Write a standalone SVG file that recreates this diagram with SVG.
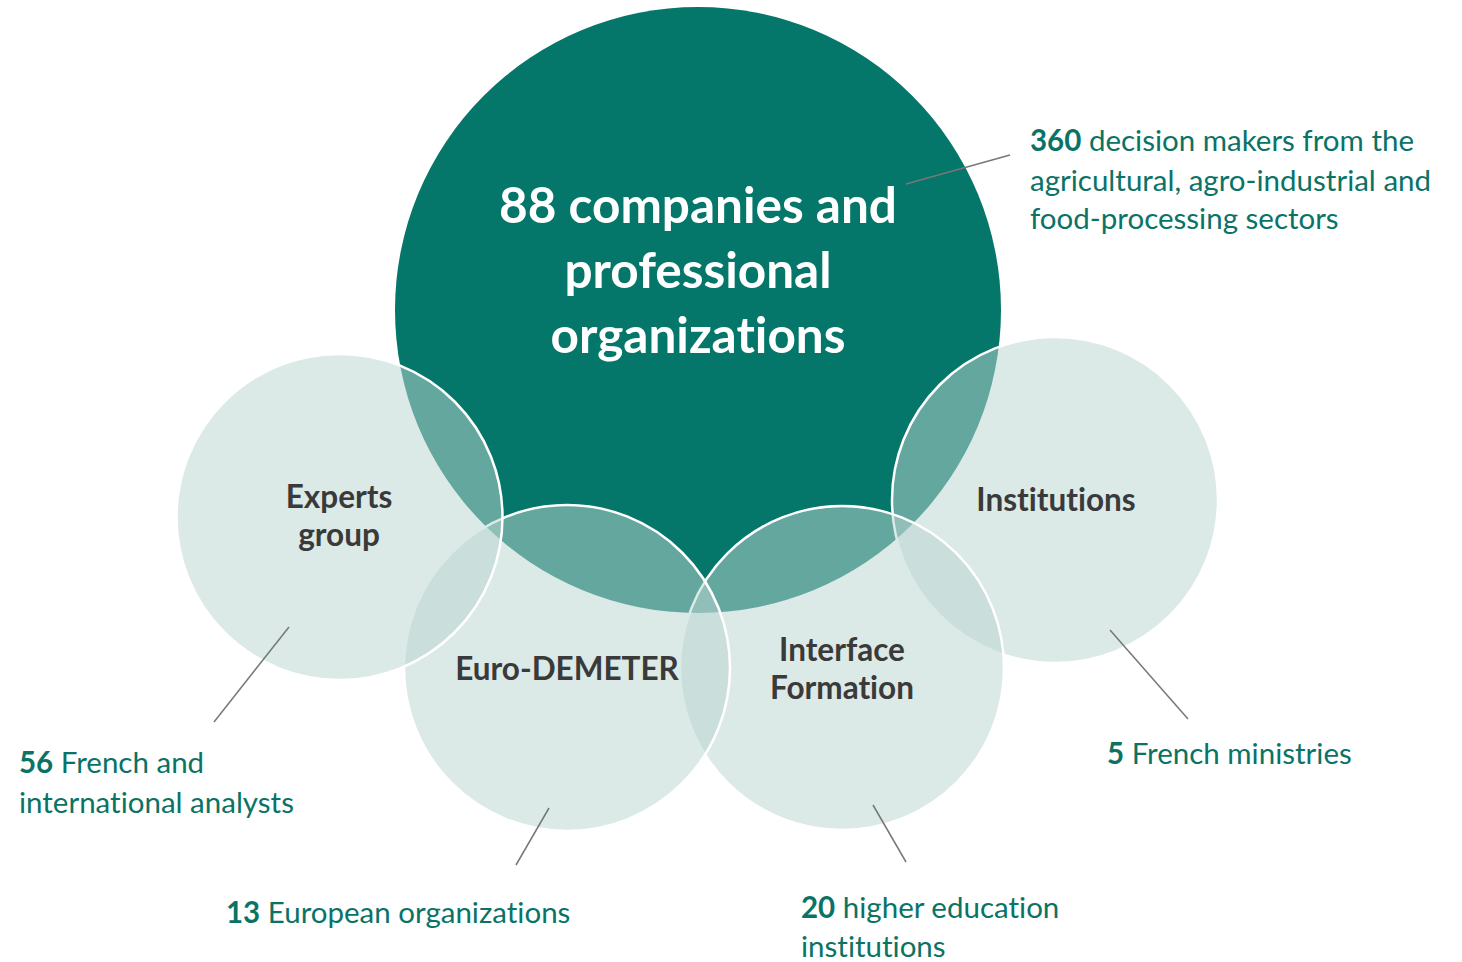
<svg xmlns="http://www.w3.org/2000/svg" width="1462" height="962" viewBox="0 0 1462 962">
<style>
text{font-variant-ligatures:none;font-feature-settings:"liga" 0}
.small{fill:#bad5d1;fill-opacity:0.52;stroke:#ffffff;stroke-width:2.5}
.lbl{font-family:Lato,"Open Sans","Liberation Sans",sans-serif;font-weight:bold;font-size:31.5px;fill:#3a3a3a;text-anchor:middle}
.big{font-family:Lato,"Open Sans","Liberation Sans",sans-serif;font-weight:bold;font-size:49.5px;fill:#ffffff;text-anchor:middle}
.co{font-family:Lato,"Open Sans","Liberation Sans",sans-serif;font-size:29.5px;fill:#0a7366}
.co tspan.b{font-weight:bold}
.lead{stroke:#777777;stroke-width:1.5;fill:none}
</style>
<rect width="1462" height="962" fill="#ffffff"/>
<g id="companies">
<circle cx="698" cy="310" r="303" fill="#05766a"/>
<text class="big"><tspan x="698" y="223">88 companies and</tspan><tspan x="698" y="288">professional</tspan><tspan x="698" y="353">organizations</tspan></text>
</g>
<g id="institutions">
<circle class="small" cx="1055" cy="500" r="163"/>
<text class="lbl" x="1056" y="511">Institutions</text>
</g>
<g id="interface">
<circle class="small" cx="842" cy="668" r="162"/>
<text class="lbl"><tspan x="842" y="661">Interface</tspan><tspan x="842" y="699">Formation</tspan></text>
</g>
<g id="euro">
<circle class="small" cx="567" cy="668" r="163"/>
<text class="lbl" x="567" y="680">Euro-DEMETER</text>
</g>
<g id="experts">
<circle class="small" cx="339.5" cy="517" r="163"/>
<text class="lbl"><tspan x="339" y="508">Experts</tspan><tspan x="339" y="546">group</tspan></text>
</g>
<g id="connectors">
<line class="lead" x1="906" y1="184" x2="1010" y2="155"/>
<line class="lead" x1="289" y1="627" x2="214" y2="722"/>
<line class="lead" x1="549" y1="808" x2="516" y2="865"/>
<line class="lead" x1="873" y1="805" x2="906" y2="862"/>
<line class="lead" x1="1110" y1="630" x2="1188" y2="719"/>
</g>
<g id="callouts">
<text class="co"><tspan x="1030" y="151"><tspan class="b">360</tspan> decision makers from the</tspan><tspan x="1030" y="191">agricultural, agro-industrial and</tspan><tspan x="1030" y="229">food-processing sectors</tspan></text>
<text class="co"><tspan x="19" y="773"><tspan class="b">56</tspan> French and</tspan><tspan x="19" y="813">international analysts</tspan></text>
<text class="co" x="226" y="923"><tspan class="b">13</tspan> European organizations</text>
<text class="co"><tspan x="801" y="918"><tspan class="b">20</tspan> higher education</tspan><tspan x="801" y="957">institutions</tspan></text>
<text class="co" x="1107" y="764"><tspan class="b">5</tspan> French ministries</text>
</g>
</svg>
